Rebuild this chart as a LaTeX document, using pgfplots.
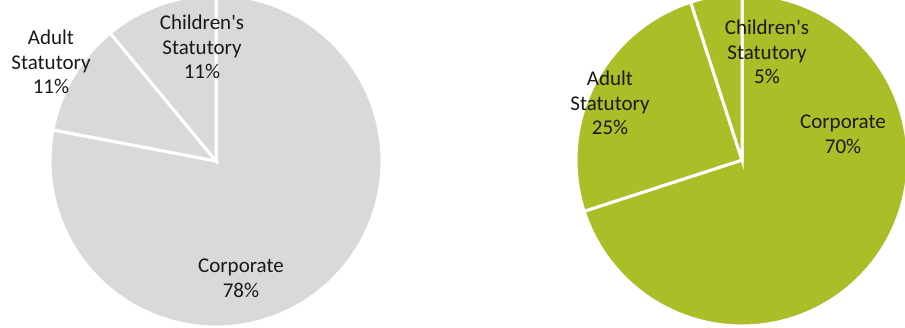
\documentclass[border=0pt]{standalone}
\usepackage{pgfplots}
\pgfplotsset{compat=1.18}
\usepackage{fontspec}
\setmainfont{Carlito}
\definecolor{pgray}{RGB}{217,217,217}
\definecolor{pgreen}{RGB}{171,190,40}
\tikzset{lbl/.style={align=center, text=black!90, font=\fontsize{21}{24.6}\selectfont, inner sep=0pt}}
\pgfplotsset{pie/.style={hide axis, x=1pt, y=1pt, scale only axis, xmin=-170, xmax=170, ymin=-170, ymax=170, clip=false, anchor=south west},
  wedge/.style={draw=white, line width=3pt, line join=miter, data cs=polar, samples=120}}
\begin{document}
\begin{tikzpicture}
\useasboundingbox (0,0) rectangle (905pt,327pt);
\clip (0,0) rectangle (905pt,327pt);
% Left pie: Corporate 78, Adult Statutory 11, Children's Statutory 11
\begin{axis}[pie, at={(46pt,-4pt)}]
\addplot[wedge, fill=pgray, domain={90-3.6*78}:90] (x,166) -- (axis cs:0,0) -- cycle;
\addplot[wedge, fill=pgray, domain={90-3.6*89}:{90-3.6*78}] (x,166) -- (axis cs:0,0) -- cycle;
\addplot[wedge, fill=pgray, domain={90-3.6*100}:{90-3.6*89}] (x,166) -- (axis cs:0,0) -- cycle;
\end{axis}
% Right pie: Corporate 70, Adult Statutory 25, Children's Statutory 5
\begin{axis}[pie, at={(572pt,-3pt)}]
\addplot[wedge, fill=pgreen, domain={90-3.6*70}:90] (x,166) -- (axis cs:0,0) -- cycle;
\addplot[wedge, fill=pgreen, domain={90-3.6*95}:{90-3.6*70}] (x,166) -- (axis cs:0,0) -- cycle;
\addplot[wedge, fill=pgreen, domain={90-3.6*100}:{90-3.6*95}] (x,166) -- (axis cs:0,0) -- cycle;
\end{axis}
\node[lbl] at (202pt,280pt) {Children\textquotesingle s\\Statutory\\11\%};
\node[lbl] at (51pt,265pt) {Adult\\Statutory\\11\%};
\node[lbl] at (241pt,49pt) {Corporate\\78\%};
\node[lbl] at (767pt,275pt) {Children\textquotesingle s\\Statutory\\5\%};
\node[lbl] at (610pt,224pt) {Adult\\Statutory\\25\%};
\node[lbl] at (843pt,193pt) {Corporate\\70\%};
\end{tikzpicture}
\end{document}
